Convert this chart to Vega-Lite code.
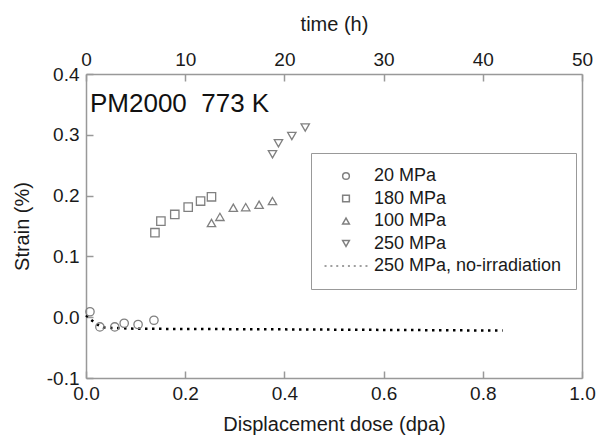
{
  "$schema": "https://vega.github.io/schema/vega-lite/v6.json",
  "width": 496,
  "height": 304,
  "autosize": {"type": "none"},
  "padding": {"left": 86, "top": 74, "right": 20, "bottom": 62},
  "config": {
    "view": {"stroke": null},
    "font": "Liberation Sans",
    "axis": {
      "domain": true,
      "domainColor": "#999999",
      "domainWidth": 1.5,
      "grid": false,
      "tickSize": -7,
      "tickColor": "#999999",
      "tickWidth": 1.5,
      "labelFlush": false,
      "labelFontSize": 19,
      "labelColor": "#1a1a1a",
      "titleFontSize": 20,
      "titleFontWeight": "normal",
      "titleColor": "#1a1a1a"
    }
  },
  "layer": [
    {
      "layer": [
        {
          "data": {"values": [
            {"x": 0.0, "y": 0.003},
            {"x": 0.02, "y": -0.011},
            {"x": 0.035, "y": -0.017},
            {"x": 0.1, "y": -0.019},
            {"x": 0.4, "y": -0.02},
            {"x": 0.84, "y": -0.022}
          ]},
          "mark": {"type": "line", "stroke": "black", "strokeDash": [2.5, 4.5], "strokeWidth": 2.5},
          "encoding": {
            "x": {"field": "x", "type": "quantitative", "scale": {"domain": [0, 1]},
              "axis": {"title": "Displacement dose (dpa)", "values": [0, 0.2, 0.4, 0.6, 0.8, 1.0], "format": ".1f", "labelPadding": 13, "titlePadding": 11}},
            "y": {"field": "y", "type": "quantitative", "scale": {"domain": [-0.1, 0.4]},
              "axis": {"title": "Strain (%)", "values": [-0.1, 0, 0.1, 0.2, 0.3, 0.4], "labelExpr": "replace(format(datum.value, '.1f'), '\u2212', '-')", "labelPadding": 14, "titlePadding": 14}}
          }
        },
        {
          "data": {"values": [
            {"x": 0.008, "y": 0.009, "s": "20 MPa"},
            {"x": 0.028, "y": -0.016, "s": "20 MPa"},
            {"x": 0.058, "y": -0.016, "s": "20 MPa"},
            {"x": 0.077, "y": -0.01, "s": "20 MPa"},
            {"x": 0.105, "y": -0.012, "s": "20 MPa"},
            {"x": 0.137, "y": -0.005, "s": "20 MPa"},
            {"x": 0.139, "y": 0.139, "s": "180 MPa"},
            {"x": 0.151, "y": 0.158, "s": "180 MPa"},
            {"x": 0.179, "y": 0.169, "s": "180 MPa"},
            {"x": 0.206, "y": 0.181, "s": "180 MPa"},
            {"x": 0.231, "y": 0.191, "s": "180 MPa"},
            {"x": 0.253, "y": 0.198, "s": "180 MPa"},
            {"x": 0.253, "y": 0.155, "s": "100 MPa"},
            {"x": 0.27, "y": 0.165, "s": "100 MPa"},
            {"x": 0.297, "y": 0.18, "s": "100 MPa"},
            {"x": 0.322, "y": 0.181, "s": "100 MPa"},
            {"x": 0.349, "y": 0.185, "s": "100 MPa"},
            {"x": 0.376, "y": 0.191, "s": "100 MPa"},
            {"x": 0.376, "y": 0.268, "s": "250 MPa"},
            {"x": 0.388, "y": 0.286, "s": "250 MPa"},
            {"x": 0.415, "y": 0.298, "s": "250 MPa"},
            {"x": 0.442, "y": 0.312, "s": "250 MPa"}
          ]},
          "mark": {"type": "point", "filled": false, "size": 70, "stroke": "#808080", "strokeWidth": 1.3, "opacity": 1},
          "encoding": {
            "x": {"field": "x", "type": "quantitative", "scale": {"domain": [0, 1]}},
            "y": {"field": "y", "type": "quantitative", "scale": {"domain": [-0.1, 0.4]}},
            "shape": {
              "field": "s", "type": "nominal",
              "scale": {
                "domain": ["20 MPa", "180 MPa", "100 MPa", "250 MPa", "250 MPa, no-irradiation"],
                "range": ["circle", "square", "triangle-up", "triangle-down", "M-6.4,0L-5.8,0M-4.66,0L-4.06,0M-2.91,0L-2.31,0M-1.17,0L-0.57,0M0.57,0L1.17,0M2.31,0L2.91,0M4.06,0L4.66,0M5.8,0L6.4,0"]
              },
              "legend": {
                "title": null,
                "orient": "none",
                "legendX": 225,
                "legendY": 79,
                "strokeColor": "#999999",
                "fillColor": "white",
                "padding": 14,
                "labelFontSize": 18,
                "labelColor": "#1a1a1a",
                "labelLimit": 0,
                "symbolSize": 45,
                "symbolOffset": 12,
                "labelOffset": 19,
                "rowPadding": 4.5,
                "encode": {
                  "symbols": {"update": {
                    "stroke": {"signal": "datum.value === '250 MPa, no-irradiation' ? '#000000' : '#808080'"},
                    "strokeWidth": {"signal": "datum.value === '250 MPa, no-irradiation' ? 2.5 : 1.2"},
                    "fill": {"value": "transparent"},
                    "opacity": {"value": 1}
                  }}
                }
              }
            }
          }
        },
        {
          "data": {"values": [{"x": 0.008, "y": 0.35, "t": "PM2000\u00a0 773 K"}]},
          "mark": {"type": "text", "align": "left", "baseline": "middle", "fontSize": 26, "color": "#111111"},
          "encoding": {
            "x": {"field": "x", "type": "quantitative", "scale": {"domain": [0, 1]}},
            "y": {"field": "y", "type": "quantitative", "scale": {"domain": [-0.1, 0.4]}},
            "text": {"field": "t", "type": "nominal"}
          }
        }
      ]
    },
    {
      "data": {"values": [{"h": 0, "v": 0}, {"h": 50, "v": 0}]},
      "mark": {"type": "point", "opacity": 0},
      "encoding": {
        "x": {"field": "h", "type": "quantitative", "scale": {"domain": [0, 50]},
          "axis": {"orient": "top", "title": "time (h)", "values": [0, 10, 20, 30, 40, 50], "labelPadding": 12, "titlePadding": 16}},
        "y": {"field": "v", "type": "quantitative", "scale": {"domain": [-0.1, 0.4]},
          "axis": {"orient": "right", "title": null, "labels": false, "ticks": false}}
      }
    }
  ],
  "resolve": {"scale": {"x": "independent"}, "axis": {"x": "independent", "y": "independent"}}
}
